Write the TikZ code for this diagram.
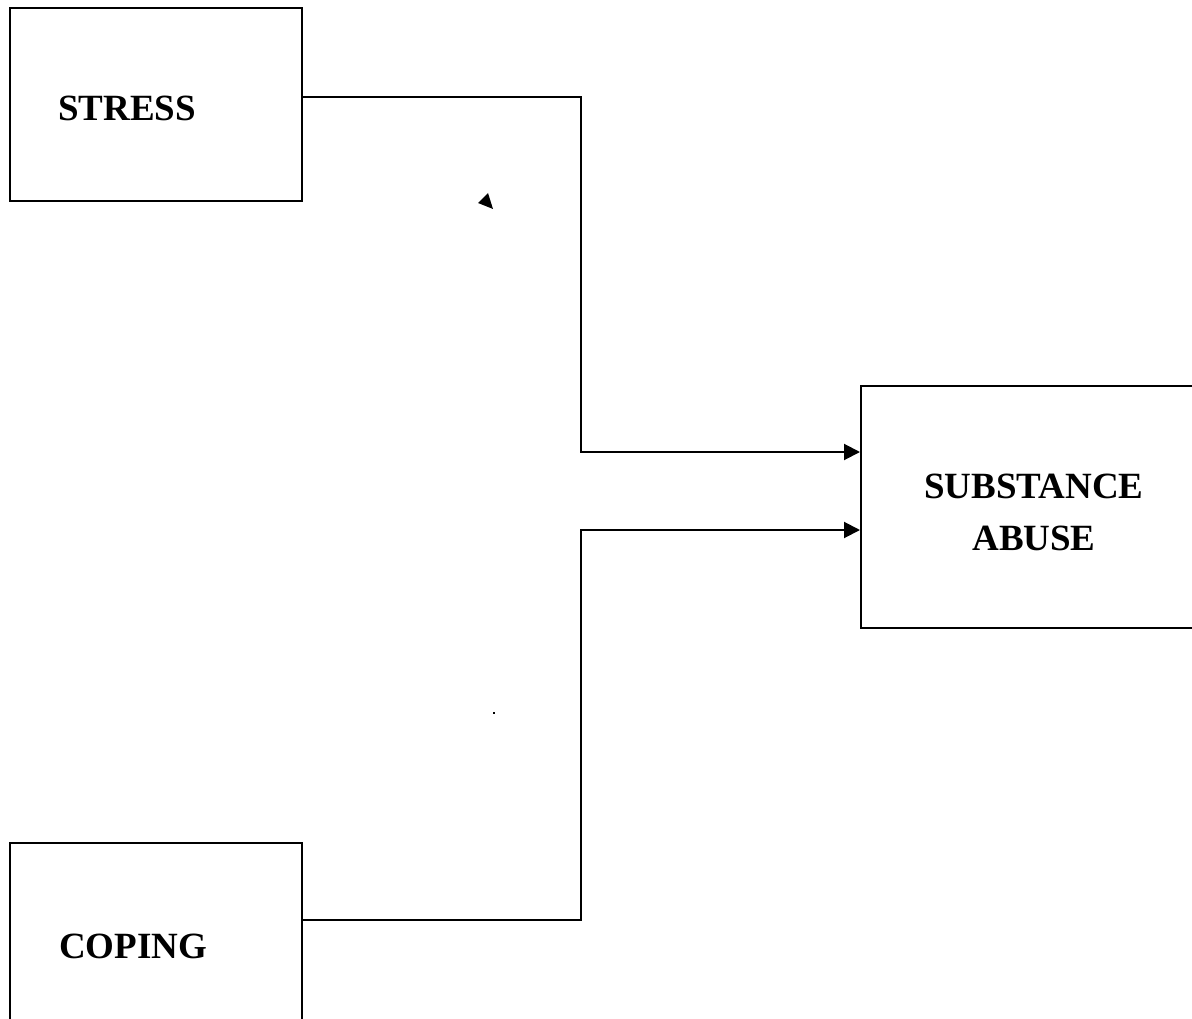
\documentclass[tikz,border=0pt]{standalone}
\usepackage{fontspec}
\setmainfont{Liberation Serif}
\usetikzlibrary{arrows.meta, calc}
\tikzstyle{block}=[draw, line width=2pt, inner sep=0pt]
\tikzstyle{ann} = [inner sep=0pt, font=\fontsize{37}{52}\selectfont\bfseries]
\tikzstyle{arr} = [line width=2pt, -{Triangle[length=16pt, width=16pt]}]
\def\colx{581}

\begin{document}
\begin{tikzpicture}[x=1pt, y=-1pt]
    \useasboundingbox (0,0) rectangle (1192,1019);
    \clip (0,0) rectangle (1192,1019);
    \fill[white] (0,0) rectangle (1192,1019);
    % boxes
    \node (stress) [block, minimum width=292pt, minimum height=193pt] at (156,104.5) {};
    \node (coping) [block, minimum width=292pt, minimum height=197pt] at (156,941.5) {};
    \node (abuse) [block, minimum width=351pt, minimum height=242pt] at (1036.5,507) {};
    \node (stresstxt) [ann, anchor=base west] at (58,121) {STRESS};
    \node (copingtxt) [ann, anchor=base west] at (59,958) {COPING};
    \node (abusetxt) [ann, align=center, anchor=base] at (1034,550) {SUBSTANCE\\ABUSE};
    % connectors
    \coordinate (b1) at (\colx,452);
    \coordinate (b2) at (\colx,530);
    \draw [arr] ([yshift=7.5pt]stress.east) -| (b1) -- (b1 -| abuse.west);
    \draw [arr] ([yshift=21.5pt]coping.east) -| (b2) -- (b2 -| abuse.west);
    % stray marks
    \fill (478,203) -- (488,193) -- (493,209) -- cycle;
    \fill (493,712) rectangle (495,714);
\end{tikzpicture}
\end{document}
